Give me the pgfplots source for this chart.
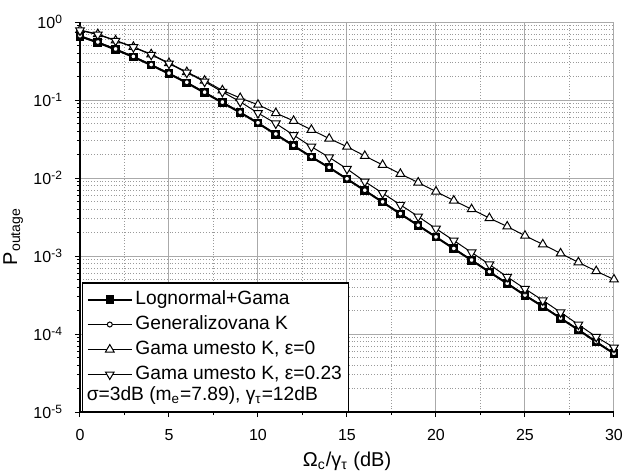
\documentclass[border=0pt]{standalone}
\usepackage{fontspec}
\setmainfont{Liberation Sans}
\usepackage{pgfplots}
\pgfplotsset{compat=1.18}
\definecolor{majgrid}{HTML}{AAAAAA}
\definecolor{mingrid}{HTML}{9A9A9A}

% P_outage vs Omega/gamma
\pgfplotstableread{
x   lng       genk      geps0     geps23
0   0.656     0.668     0.79      0.78
1   0.545     0.555     0.70      0.69
2   0.443     0.452     0.58      0.575
3   0.356     0.362     0.48      0.475
4   0.280     0.285     0.386     0.380
5   0.217     0.221     0.298     0.293
6   0.166     0.169     0.228     0.224
7   0.124     0.126     0.177     0.172
8   0.0925    0.094     0.133     0.127
9   0.0690    0.070     0.106     0.095
10  0.0505    0.0512    0.087     0.068
11  0.0362    0.0367    0.068     0.050
12  0.0259    0.0262    0.054     0.0355
13  0.0186    0.0188    0.0415    0.0252
14  0.0136    0.0137    0.032     0.0184
15  0.0097    0.0098    0.0252    0.0131
16  0.0069    0.00697   0.0192    0.0090
17  0.0049    0.00495   0.0147    0.0064
18  0.00347   0.0035    0.0113    0.00453
19  0.00246   0.00248   0.00875   0.00321
20  0.00175   0.00176   0.0067    0.00224
21  0.00124   0.00125   0.00514   0.00158
22  0.00088   0.00089   0.00398   0.00111
23  0.000624  0.00063   0.00306   0.00078
24  0.000443  0.000447  0.00239   0.00054
25  0.000313  0.000316  0.00182   0.00038
26  0.000225  0.000227  0.00141   0.00027
27  0.000159  0.00016   0.00108   0.00019
28  0.000113  0.000114  0.00083   0.000132
29  0.000079  0.00008   0.00064   0.000092
30  0.000056  0.0000565 0.00050   0.000067
}\poutdata

\begin{document}
\begin{tikzpicture}
\begin{semilogyaxis}[
  scale only axis,
  width=267pt, height=195pt,
  anchor=south west, at={(0,0)},
  xmin=0, xmax=30,
  ymin=1e-5, ymax=1,
  xtick={0,5,...,30},
  minor x tick num=1,
  ytick={1e-5,1e-4,1e-3,1e-2,1e-1,1},
  yticklabels={10\textsuperscript{-5},10\textsuperscript{-4},10\textsuperscript{-3},10\textsuperscript{-2},10\textsuperscript{-1},10\textsuperscript{0}},
  /pgf/number format/assume math mode=true,
  axis x line*=bottom, axis y line*=left,
  axis line style={black, line width=0.8pt, -},
  tick align=outside,
  major tick length=2.5pt, minor tick length=1.5pt,
  tick style={black, line width=0.5pt},
  xticklabel style={font=\fontsize{8}{9}\selectfont, yshift=-2.5pt},
  yticklabel style={font=\fontsize{8}{9}\selectfont, xshift=-2.5pt},
  grid=both,
  major grid style={majgrid, line width=0.5pt},
  minor grid style={mingrid, line width=0.4pt, densely dotted},
  xlabel={Ω\textsubscript{c}/γ\textsubscript{τ} (dB)},
  ylabel={P\textsubscript{outage}},
  label style={font=\fontsize{10}{11}\selectfont},
  xlabel style={at={(axis description cs:0.5,-0.127)}, anchor=center},
  ylabel style={at={(axis description cs:-0.125,0.45)}, anchor=center},
  legend cell align=left,
  legend style={at={(rel axis cs:0.012,0.32)}, anchor=north west,
    draw=none, fill=none, inner sep=0pt, row sep=0.6pt, column sep=0.3pt,
    font=\fontsize{9.6}{11}\selectfont,
    nodes={inner sep=1pt, text height=7.5pt, text depth=2.4pt}},
  legend image code/.code={
    \draw[mark repeat=2, mark phase=2, #1] plot coordinates {(0pt,0pt) (11pt,0pt) (22pt,0pt)};},
]
\draw[black, line width=0.6pt, fill=white] (rel axis cs:0.004,0) rectangle (rel axis cs:0.503,0.331);

\addplot[black, line width=1pt, mark=square*, mark size=1.9pt, mark options={fill=black, line width=0.5pt}]
  table[x=x, y=lng] {\poutdata};
\addlegendentry{Lognormal+Gama}
\addplot[black, line width=0.5pt, mark=*, mark size=1.25pt, mark options={fill=white}]
  table[x=x, y=genk] {\poutdata};
\addlegendentry{Generalizovana K}
\addplot[black, line width=0.5pt, mark=triangle*, mark size=2.5pt, mark options={fill=white}]
  table[x=x, y=geps0] {\poutdata};
\addlegendentry{Gama umesto K, ε=0}
\addplot[black, line width=0.5pt, mark=triangle*, mark size=2.5pt, mark options={fill=white, rotate=180}]
  table[x=x, y=geps23] {\poutdata};
\addlegendentry{Gama umesto K, ε=0.23}

\node[anchor=base west, font=\fontsize{9.6}{11}\selectfont, inner sep=0pt]
  at (rel axis cs:0.012,0.03) {σ=3dB (m\textsubscript{e}=7.89), γ\textsubscript{τ}=12dB};
\end{semilogyaxis}
\pgfresetboundingbox
\useasboundingbox (-40pt,-30.5pt) rectangle (271.5pt,206pt);
\end{tikzpicture}
\end{document}
